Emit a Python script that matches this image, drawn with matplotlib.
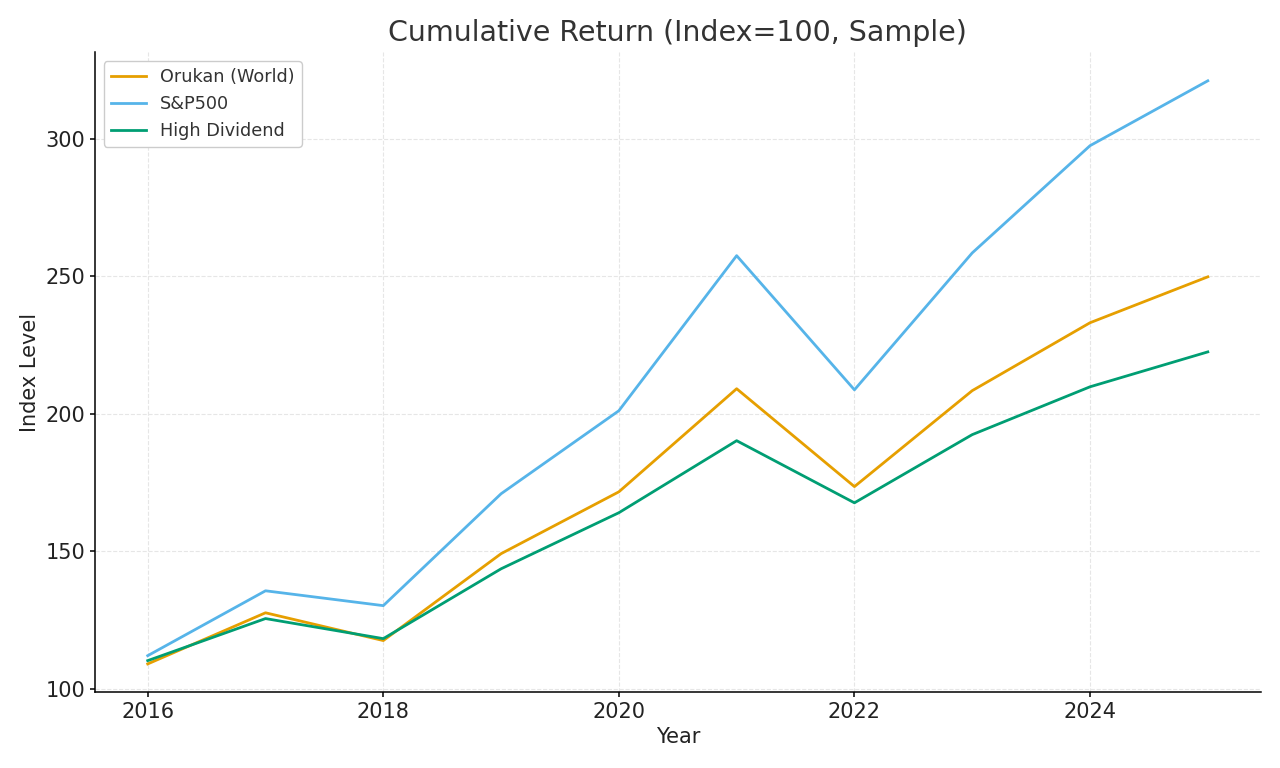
import matplotlib
matplotlib.use("Agg")
import matplotlib.pyplot as plt

years = [2016, 2017, 2018, 2019, 2020, 2021, 2022, 2023, 2024, 2025]
orukan = [109.0, 127.6, 117.5, 149.1, 171.6, 209.1, 173.5, 208.4, 233.1, 249.8]
sp500 = [112.0, 135.6, 130.2, 170.9, 201.1, 257.5, 208.7, 258.5, 297.5, 321.1]
high_div = [110.2, 125.5, 118.2, 143.6, 164.0, 190.2, 167.6, 192.4, 209.8, 222.5]

fig, ax = plt.subplots(figsize=(12.8, 7.68), dpi=100)
fig.subplots_adjust(left=0.074, right=0.985, top=0.932, bottom=0.099)

ax.plot(years, orukan, color="#E69F00", lw=2, label="Orukan (World)")
ax.plot(years, sp500, color="#56B4E9", lw=2, label="S&P500")
ax.plot(years, high_div, color="#009E73", lw=2, label="High Dividend")

ax.set_title("Cumulative Return (Index=100, Sample)", fontsize=20.5, color="#333333", pad=8)
ax.set_xlabel("Year", fontsize=15, color="#222222")
ax.set_ylabel("Index Level", fontsize=15, color="#222222")
ax.set_xticks([2016, 2018, 2020, 2022, 2024])
ax.set_yticks([100, 150, 200, 250, 300])
ax.tick_params(labelsize=15, width=1.1, length=3.5, labelcolor="#222222")
ax.set_xlim(2015.55, 2025.45)
ax.set_ylim(98.8, 331.5)
ax.grid(True, linestyle="--", color="#e6e6e6", linewidth=0.8)
ax.spines["top"].set_visible(False)
ax.spines["right"].set_visible(False)
for s in ("left", "bottom"):
    ax.spines[s].set_linewidth(1.1)
leg = ax.legend(loc="upper left", fontsize=12.7, framealpha=1)
for t in leg.get_texts():
    t.set_color("#333333")

plt.savefig("out.png")
